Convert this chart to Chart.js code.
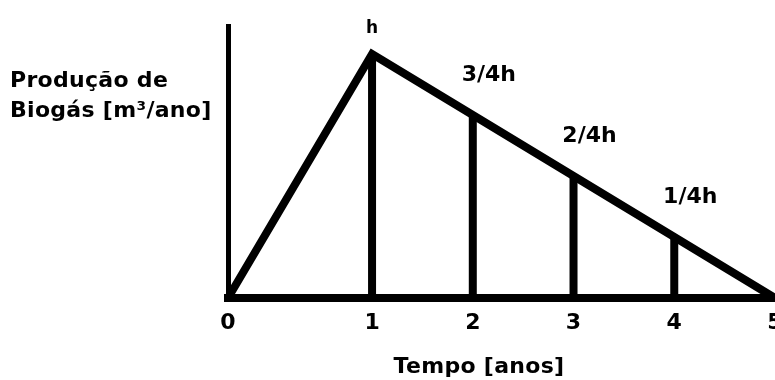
<!DOCTYPE html>
<html lang="pt">
<head>
  <meta charset="UTF-8" />
  <title>Produção de Biogás</title>
  <script src="https://cdn.jsdelivr.net/npm/chart.js@4"></script>
  <style>
    body {
      margin: 0;
      background: #fff;
    }
    .wrap {
      position: relative;
      width: 775px;
      height: 380px;
      overflow: hidden;
    }
    .axis-title {
      position: absolute;
      font-family: 'DejaVu Sans', sans-serif;
      font-weight: bold;
      font-size: 22px;
      line-height: 30px;
      letter-spacing: 0.3px;
      color: #000;
      white-space: nowrap;
    }
    #yTitle { left: 10px; top: 65px; }
    #xTitle { left: 379px; top: 351px; width: 200px; text-align: center; }
  </style>
</head>
<body>
  <div class="wrap">
    <canvas id="chart"></canvas>
    <div class="axis-title" id="yTitle">Produção de<br>Biogás [m³/ano]</div>
    <div class="axis-title" id="xTitle">Tempo [anos]</div>
  </div>

  <script>
    // tempo em anos e produção em frações do pico h
    const anos = [0, 1, 2, 3, 4, 5];
    const producao = [0, 1, 0.75, 0.5, 0.25, 0];
    const rotulos = ['', 'h', '3/4h', '2/4h', '1/4h', ''];

    // o primeiro ano (subida) é desenhado mais largo que os outros
    const PRIMEIRO_ANO = 1.43;

    class EscalaTempo extends Chart.LinearScale {
      getPixelForValue(v) {
        const total = PRIMEIRO_ANO + (this.max - 1);
        const d = v <= 1 ? v * PRIMEIRO_ANO / total : (PRIMEIRO_ANO + v - 1) / total;
        return this.getPixelForDecimal(d);
      }
    }
    EscalaTempo.id = 'tempo';
    EscalaTempo.defaults = Chart.LinearScale.defaults;
    Chart.register(EscalaTempo);

    const traco = {
      borderColor: '#000',
      borderWidth: 8,
      pointRadius: 0,
      fill: false,
      tension: 0,
      borderJoinStyle: 'miter',
      borderCapStyle: 'butt',
      clip: false
    };

    // contorno do triângulo
    const contorno = {
      ...traco,
      data: anos.map((a, i) => ({ x: a, y: producao[i] }))
    };

    // linhas verticais em cada ano com produção
    const verticais = anos
      .map((a, i) => ({ a, p: producao[i] }))
      .filter(d => d.p > 0)
      .map(d => ({ ...traco, data: [{ x: d.a, y: 0 }, { x: d.a, y: d.p }] }));

    const rotulosPlugin = {
      id: 'rotulos',
      afterDatasetsDraw(chart) {
        const { ctx, scales: { x, y } } = chart;
        ctx.save();
        ctx.fillStyle = '#000';
        ctx.textAlign = 'center';
        ctx.textBaseline = 'alphabetic';
        rotulos.forEach((txt, i) => {
          if (!txt) return;
          const px = x.getPixelForValue(anos[i]);
          const py = y.getPixelForValue(producao[i]);
          if (producao[i] === 1) {
            ctx.font = 'bold 17px "DejaVu Sans"';
            ctx.fillText(txt, px, py - 21);
          } else {
            ctx.font = 'bold 22px "DejaVu Sans"';
            ctx.fillText(txt, px + 16, py - 34);
          }
        });
        ctx.restore();
      }
    };

    const fonte = { family: 'DejaVu Sans', weight: 'bold', size: 22 };

    new Chart(document.getElementById('chart'), {
      type: 'line',
      data: { datasets: [contorno, ...verticais] },
      options: {
        responsive: true,
        maintainAspectRatio: false,
        animation: false,
        events: [],
        layout: { padding: { left: 228, top: 26, right: 0, bottom: 0 } },
        plugins: {
          legend: { display: false },
          tooltip: { enabled: false }
        },
        scales: {
          x: {
            type: 'tempo',
            min: 0,
            max: 5,
            grid: { display: false, drawTicks: false },
            border: { display: true, color: '#000', width: 8 },
            ticks: {
              stepSize: 1,
              autoSkip: false,
              maxRotation: 0,
              padding: 12,
              color: '#000',
              font: fonte,
              callback: v => String(v)
            },
            afterFit(s) {
              s.height = 82;
              s.paddingLeft = 0;
              s.paddingRight = 0;
            }
          },
          y: {
            min: 0,
            max: 1.115,
            grid: { display: false, drawTicks: false },
            border: { display: true, color: '#000', width: 5 },
            ticks: { display: false },
            afterFit(s) {
              s.width = 0;
            }
          }
        }
      },
      plugins: [rotulosPlugin]
    });
  </script>
</body>
</html>
